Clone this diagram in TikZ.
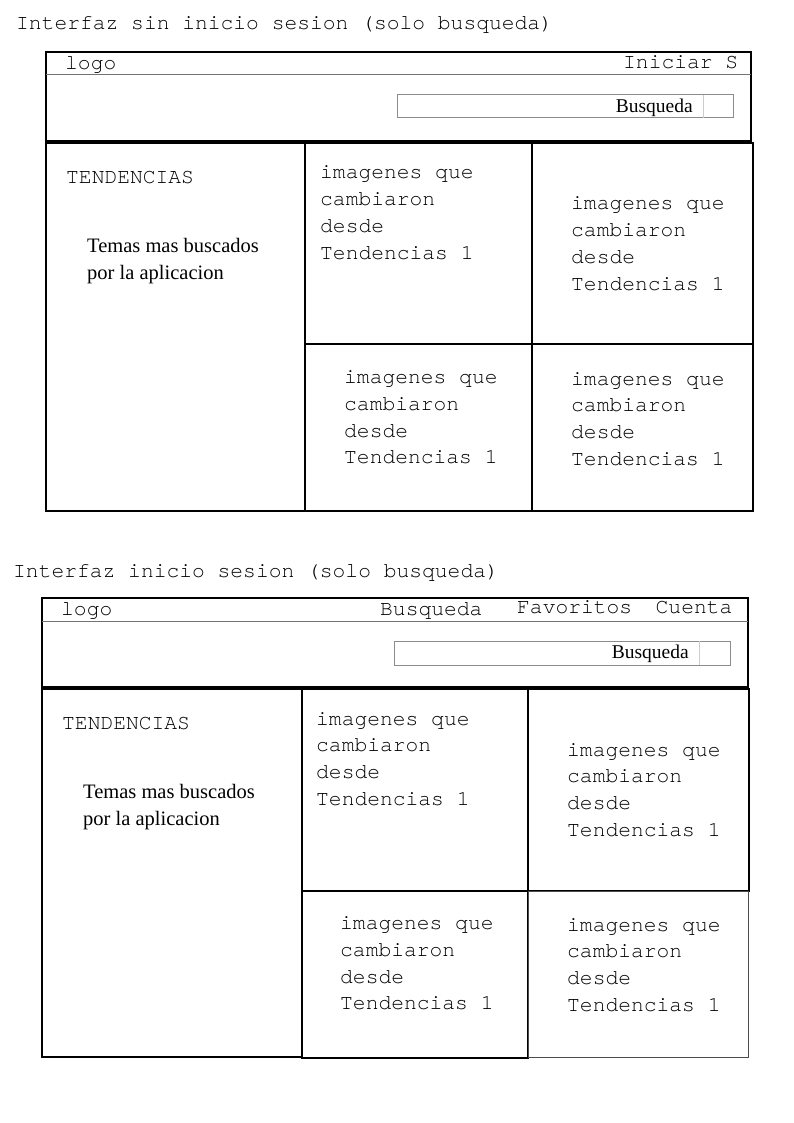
\documentclass[tikz,border=0pt]{standalone}
\usepackage{fontspec}
\newfontfamily\monofont{TeX Gyre Cursor}
\newfontfamily\seriffont{Liberation Serif}

% four lines of one image cell, first baseline at (#2,#3)
\newcommand{\imgcell}[3]{%
\node[txt] (#1a) at (#2,#3) {imagenes que};
\node[txt] (#1b) at (#2,#3+26.8) {cambiaron};
\node[txt] (#1c) at (#2,#3+53.6) {desde};
\node[txt] (#1d) at (#2,#3+80.4) {Tendencias 1};
}

\begin{document}
\begin{tikzpicture}[x=1pt,y=-1pt,
  txt/.style={anchor=base west,inner sep=0pt,font=\monofont\fontsize{21.3}{26}\selectfont},
  small/.style={anchor=base west,inner sep=0pt,font=\seriffont\fontsize{20.5}{24}\selectfont},
  smallr/.style={small,anchor=base east,font=\seriffont\fontsize{19.5}{24}\selectfont},
  frame/.style={line width=1.3pt},
  bar/.style={line width=1pt,black!55},
  searchbox/.style={line width=1pt,black!45},
  divider/.style={line width=0.8pt,black!20},
  grid/.style={line width=1.5pt},
  gridthick/.style={line width=2.8pt}]
\useasboundingbox (0,0) rectangle (794,1123);

% ---- interfaz sin inicio de sesion ----
\node[txt] (t1) at (16,30) {Interfaz sin inicio sesion (solo busqueda)};
\draw[frame] (46,52) rectangle (751,141);
\draw[bar] (46,75) -- (751,75);
\node[txt] (logo1) at (65,70) {logo};
\node[txt] (ini1) at (623,68.5) {Iniciar S};
\draw[searchbox] (397,95) rectangle (733,118);
\draw[divider] (703,95) -- (703,118);
\node[smallr] (bus1) at (693,112.5) {Busqueda};

\draw[gridthick] (46,143) rectangle (753,511);
\draw[grid] (305,143) -- (305,511);
\draw[grid] (532,143) -- (532,511);
\draw[grid] (305,344) -- (753,344);
\node[txt] (ten1) at (66,183.5) {TENDENCIAS};
\node[small] (tem1) at (87,252) {Temas mas buscados};
\node[small] (por1) at (87,279) {por la aplicacion};
\imgcell{ca}{320}{179}
\imgcell{cb}{571}{210}
\imgcell{cc}{344}{383.5}
\imgcell{cd}{571}{385}

% ---- interfaz con inicio de sesion ----
\node[txt] (t2) at (13,577) {Interfaz inicio sesion (solo busqueda)};
\draw[frame] (42,598) rectangle (748,687);
\draw[bar] (42,621) -- (748,621);
\node[txt] (logo2) at (61,615) {logo};
\node[txt] (bus2) at (380,615.5) {Busqueda};
\node[txt] (fav2) at (517,613.5) {Favoritos};
\node[txt] (cue2) at (655.5,613.5) {Cuenta};
\draw[searchbox] (394,641) rectangle (730,665);
\draw[divider] (699,641) -- (699,665);
\node[smallr] (bus3) at (689,658) {Busqueda};

\draw[line width=2pt] (42,689) rectangle (302,1057);
\draw[grid] (302,689) rectangle (528,891);
\draw[line width=2pt] (528,689) rectangle (749,891);
\draw[line width=2pt] (302,891) rectangle (528,1058);
\draw[line width=1pt,black!70] (528,891) rectangle (748,1057);
\node[txt] (ten2) at (62,729.5) {TENDENCIAS};
\node[small] (tem2) at (83,798) {Temas mas buscados};
\node[small] (por2) at (83,825) {por la aplicacion};
\imgcell{da}{316}{725}
\imgcell{db}{567}{756}
\imgcell{dc}{340}{929.5}
\imgcell{dd}{567}{931}
\end{tikzpicture}
\end{document}
